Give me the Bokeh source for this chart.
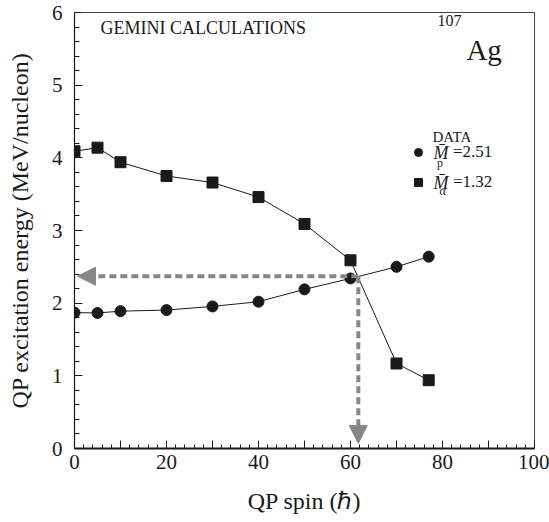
from bokeh.plotting import figure
from bokeh.models import (Range1d, SingleIntervalTicker, Label, Arrow, NormalHead,
                          Legend, LegendItem)
from bokeh.embed import file_html
from bokeh.resources import INLINE

# ---- data ----
spin = [0, 5, 10, 20, 30, 40, 50, 60, 70, 77]
e_proton = [1.87, 1.865, 1.89, 1.905, 1.955, 2.02, 2.19, 2.34, 2.50, 2.64]
e_alpha = [4.09, 4.14, 3.94, 3.75, 3.66, 3.46, 3.09, 2.59, 1.17, 0.94]
mult_labels = ["=2.51", "=1.32"]
spin_cross = 61.7
e_cross = 2.37

FONT = "Liberation Serif"
INK = "#1a1a1a"
GREY = "#878787"

p = figure(width=549, height=522, output_backend="svg", toolbar_location=None,
           x_range=Range1d(0, 100), y_range=Range1d(0, 6),
           min_border_left=74, min_border_right=15, min_border_top=12,
           min_border_bottom=74)
p.xgrid.visible = False
p.ygrid.visible = False
p.outline_line_color = "#444444"
p.outline_line_width = 1
p.background_fill_color = "white"
p.border_fill_color = "white"

# axes
p.xaxis.ticker = SingleIntervalTicker(interval=10, num_minor_ticks=5)
p.xaxis.major_label_overrides = {v: "" for v in [10, 30, 50, 70, 90]}
p.yaxis.ticker = SingleIntervalTicker(interval=1, num_minor_ticks=5)

for ax in (p.xaxis[0], p.yaxis[0]):
    ax.major_tick_in = 8
    ax.major_tick_out = 0
    ax.minor_tick_in = 5
    ax.minor_tick_out = 0
    ax.axis_line_color = INK
    ax.major_tick_line_color = INK
    ax.minor_tick_line_color = INK
    ax.major_label_text_font = FONT
    ax.major_label_text_font_size = "21px"
    ax.major_label_text_color = INK
    ax.axis_label_text_font = FONT
    ax.axis_label_text_font_size = "24px"
    ax.axis_label_text_font_style = "normal"
    ax.axis_label_text_color = INK
p.xaxis.axis_line_width = 2
p.yaxis.axis_line_width = 1.2
p.xaxis.minor_tick_in = 4
p.xaxis.major_label_standoff = 6
p.yaxis.major_label_standoff = 12
p.xaxis.axis_label = "QP spin (\u210f)"
p.yaxis.axis_label = "QP excitation energy (MeV/nucleon)"
p.xaxis.axis_label_standoff = 16
p.yaxis.axis_label_standoff = 16

# data
p.line(spin, e_alpha, line_color=INK, line_width=1)
p.line(spin, e_proton, line_color=INK, line_width=1)
r_a = p.scatter(spin, e_alpha, marker="square", size=11, fill_color=INK, line_color=INK)
r_p = p.scatter(spin, e_proton, marker="circle", size=11, fill_color=INK, line_color=INK)

# dashed arrows
for xs, ys, xe, ye in [(spin_cross, e_cross, 0.65, e_cross),
                       (spin_cross, e_cross, spin_cross, 0.07)]:
    p.add_layout(Arrow(x_start=xs, y_start=ys, x_end=xe, y_end=ye,
                       line_color=GREY, line_width=4, line_dash="7 4",
                       end=NormalHead(size=18, fill_color=GREY, line_color=GREY, line_width=1)))

# legend (markers + value labels)
legend = Legend(items=[LegendItem(label=mult_labels[0], renderers=[r_p]),
                       LegendItem(label=mult_labels[1], renderers=[r_a])],
                location=(334, 256), orientation="vertical",
                glyph_width=20, glyph_height=20, label_height=20, spacing=10,
                label_standoff=25, padding=0, margin=0,
                border_line_color=None, background_fill_alpha=0,
                label_text_font=FONT, label_text_font_size="17px",
                label_text_color=INK)
p.add_layout(legend, "center")

def lab(x, y, text, size, style="normal", baseline="middle", align="left"):
    p.add_layout(Label(x=x, y=y, text=text, text_font=FONT, text_font_size=size,
                       text_font_style=style, text_baseline=baseline, text_align=align,
                       text_color=INK))

lab(5.65, 5.78, "GEMINI CALCULATIONS", "18px")
lab(78.9, 5.89, "107", "16px")
lab(85.2, 5.49, "Ag", "29px", baseline="alphabetic")
lab(77.83, 4.28, "DATA", "15px")
lab(78.04, 4.07, "M\u0304", "18px", style="italic")
lab(78.8, 3.935, "p", "12px")
lab(78.04, 3.66, "M\u0304", "18px", style="italic")
lab(79.35, 3.55, "\u03b1", "12px")

open("out.html", "w").write(file_html(p, INLINE))
